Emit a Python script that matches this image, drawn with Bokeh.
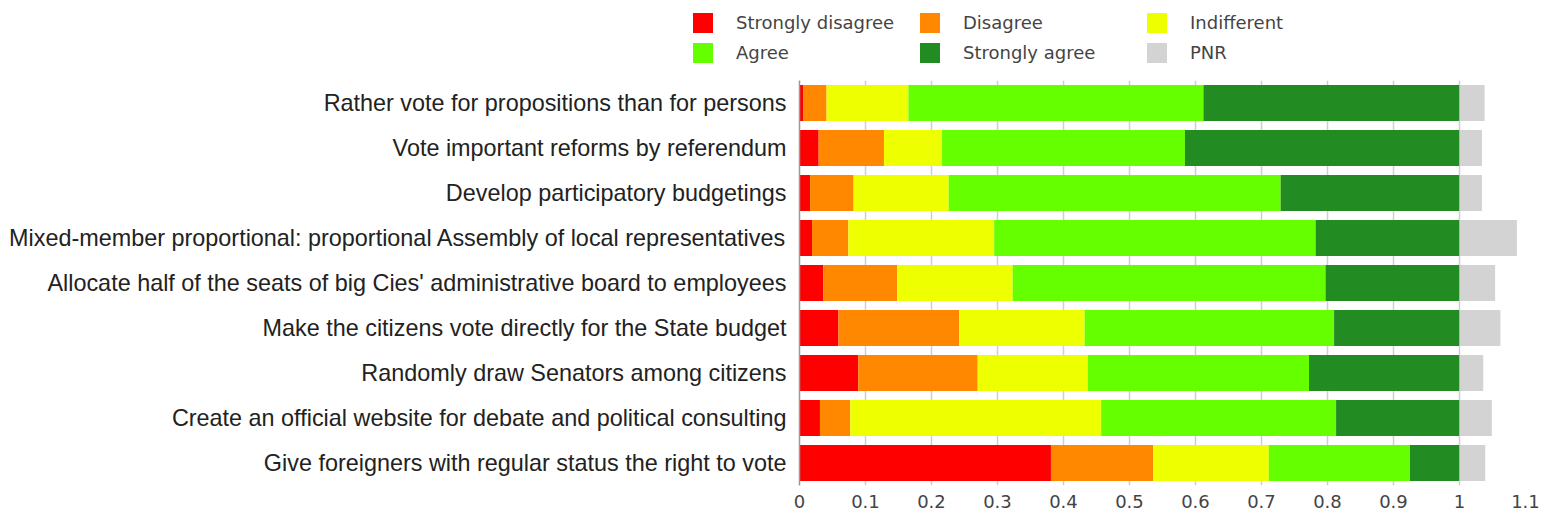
from bokeh.plotting import figure
from bokeh.layouts import column
from bokeh.models import (ColumnDataSource, FactorRange, Range1d, Legend, LegendItem,
                          FixedTicker, CustomJSTickFormatter)
from bokeh.embed import file_html
from bokeh.resources import INLINE

# ---- data (top to bottom) ----
questions = [
    "Rather vote for propositions than for persons",
    "Vote important reforms by referendum",
    "Develop participatory budgetings",
    "Mixed-member proportional: proportional Assembly of local representatives",
    "Allocate half of the seats of big Cies' administrative board to employees",
    "Make the citizens vote directly for the State budget",
    "Randomly draw Senators among citizens",
    "Create an official website for debate and political consulting",
    "Give foreigners with regular status the right to vote",
]
strongly_disagree = [0.006, 0.029, 0.016, 0.019, 0.036, 0.059, 0.089, 0.031, 0.381]
disagree          = [0.035, 0.099, 0.066, 0.055, 0.112, 0.183, 0.181, 0.046, 0.155]
indifferent       = [0.124, 0.088, 0.144, 0.221, 0.175, 0.190, 0.167, 0.380, 0.175]
agree             = [0.447, 0.368, 0.503, 0.487, 0.474, 0.378, 0.335, 0.356, 0.214]
strongly_agree    = [0.388, 0.416, 0.271, 0.218, 0.203, 0.190, 0.228, 0.187, 0.075]
pnr               = [0.038, 0.034, 0.034, 0.087, 0.054, 0.062, 0.036, 0.049, 0.039]

series_labels = ["Strongly disagree", "Disagree", "Indifferent", "Agree", "Strongly agree", "PNR"]
series_keys = ["sd", "d", "i", "a", "sa", "pnr"]
colors = ["#ff0000", "#ff8800", "#eeff00", "#66ff00", "#228b22", "#d3d3d3"]
x_ticks = [0, 0.1, 0.2, 0.3, 0.4, 0.5, 0.6, 0.7, 0.8, 0.9, 1, 1.1]

source = ColumnDataSource(dict(q=questions, sd=strongly_disagree, d=disagree, i=indifferent,
                               a=agree, sa=strongly_agree, pnr=pnr))
cat_range = list(reversed(questions))

W = 1540

# ---------------- legend strip (its own bars have zero height; only the legend shows) ----
lf = figure(width=W, height=67, output_backend="svg", toolbar_location=None,
            x_range=Range1d(5, 6), y_range=FactorRange(factors=cat_range),
            x_axis_type=None, y_axis_type=None, min_border=0)
lf.frame_align = False
lf.outline_line_color = None
lf.grid.visible = False
legend_renderers = lf.hbar_stack(series_keys, y="q", height=0, color=colors,
                                 line_color=None, source=source)
items = [LegendItem(label=lab, renderers=[r]) for lab, r in zip(series_labels, legend_renderers)]
legend = Legend(items=items, ncols=3, orientation="horizontal",
                location=(690, 2),
                glyph_width=25, glyph_height=25, label_standoff=21,
                label_width=176, label_height=20, spacing=5, padding=0, margin=0,
                label_text_font="DejaVu Sans", label_text_font_size="18px",
                label_text_color="#444444",
                border_line_color=None, background_fill_alpha=0)
lf.add_layout(legend, "center")

# ---------------- main chart ----------------
p = figure(width=W, height=448, output_backend="svg", toolbar_location=None,
           y_range=FactorRange(factors=cat_range, range_padding=0),
           x_range=Range1d(0, 1.1),
           min_border_left=799, min_border_right=15, min_border_top=13, min_border_bottom=30)
p.frame_align = False
p.outline_line_color = None
p.background_fill_color = "white"

p.hbar_stack(series_keys, y="q", height=0.8, color=colors, line_color=None, source=source)

xa = p.xaxis[0]
xa.ticker = FixedTicker(ticks=x_ticks)
xa.formatter = CustomJSTickFormatter(code="return (Math.round(tick*10)/10).toString();")
xa.axis_line_color = None
xa.major_tick_line_color = None
xa.major_tick_in = 0
xa.major_tick_out = 0
xa.minor_tick_line_color = None
xa.major_label_standoff = 9
xa.major_label_text_font = "DejaVu Sans"
xa.major_label_text_font_size = "18px"
xa.major_label_text_color = "#444444"

ya = p.yaxis[0]
ya.axis_line_color = "#999999"
ya.axis_line_width = 1.5
ya.major_tick_line_color = None
ya.minor_tick_line_color = None
ya.major_tick_out = 0
ya.major_tick_in = 0
ya.major_label_standoff = 13
ya.major_label_text_font = "Liberation Sans"
ya.major_label_text_font_size = "23.4px"
ya.major_label_text_color = "#222222"

p.ygrid.grid_line_color = None
p.xgrid.ticker = FixedTicker(ticks=x_ticks)
p.xgrid.grid_line_color = "#cfcfcf"
p.xgrid.grid_line_width = 1.5

layout = column(lf, p, spacing=0)
open("out.html", "w").write(file_html(layout, INLINE))
